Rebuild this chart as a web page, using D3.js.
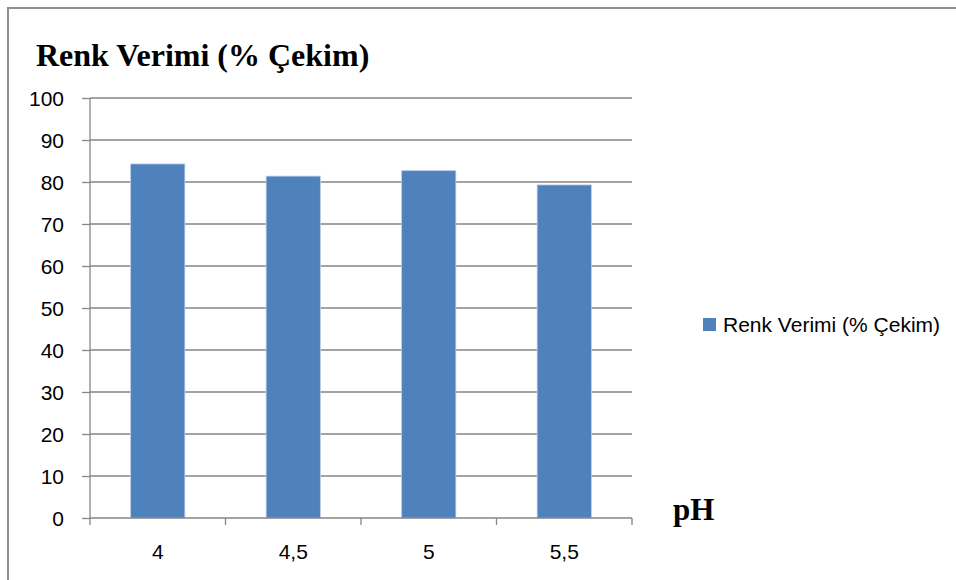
<!DOCTYPE html>
<html>
<head>
<meta charset="utf-8">
<script src="https://cdn.jsdelivr.net/npm/d3@7"></script>
<style>
  html, body { margin: 0; padding: 0; background: #fff; }
  svg { display: block; }
</style>
</head>
<body>
<svg id="chart" width="956" height="580"></svg>
<script>
// pH values on the x axis and the colour yield (% exhaustion) for each
const categories = ["4", "4,5", "5", "5,5"];
const values = [84.3, 81.4, 82.7, 79.3];
const yTicks = [0, 10, 20, 30, 40, 50, 60, 70, 80, 90, 100];
const seriesName = "Renk Verimi (% Çekim)";
const xTitle = "pH";

const svg = d3.select("#chart");
const W = 956, H = 580;
const plot = { left: 90, right: 632, top: 98, bottom: 518 };
const barColor = "#4F81BD";
const gridColor = "#868686";
const sans = "'Liberation Sans', Arial, sans-serif";
const serif = "'Liberation Serif', 'Times New Roman', serif";

// outer chart frame (left and top edges visible)
svg.append("path")
  .attr("d", `M8,${H} L8,8 L${W},8`)
  .attr("fill", "none")
  .attr("stroke", "#8f8f8f")
  .attr("stroke-width", 2);

const x = d3.scaleBand().domain(categories).range([plot.left, plot.right]).paddingInner(0.6).paddingOuter(0.3);
const xb = d3.scaleBand().domain(categories).range([plot.left, plot.right]);
const y = d3.scaleLinear().domain([0, 100]).range([plot.bottom, plot.top]);

// horizontal gridlines
svg.append("g").selectAll("line").data(yTicks.filter(d => d > 0)).join("line")
  .attr("x1", plot.left).attr("x2", plot.right)
  .attr("y1", d => y(d)).attr("y2", d => y(d))
  .attr("stroke", gridColor).attr("stroke-width", 1.3);

// bars
svg.append("g").selectAll("rect").data(values).join("rect")
  .attr("x", (d, i) => x(categories[i]))
  .attr("width", x.bandwidth())
  .attr("y", d => y(d))
  .attr("height", d => y(0) - y(d))
  .attr("fill", barColor)
  .attr("stroke", "#b9cde5")
  .attr("stroke-width", 0.8);

// y axis
const yAxis = d3.axisLeft(y).tickValues(yTicks).tickSize(8).tickPadding(18);
const gy = svg.append("g").attr("transform", `translate(${plot.left},0)`).call(yAxis);
gy.select(".domain").attr("stroke", gridColor).attr("stroke-width", 1.3).attr("d", `M-0,${plot.top}V${plot.bottom}`);
gy.selectAll(".tick line").attr("stroke", gridColor).attr("stroke-width", 1.3);
gy.selectAll(".tick text")
  .attr("fill", "#000")
  .attr("font-family", sans)
  .attr("font-size", 21)
  .attr("dy", "0.36em");

// x axis: ticks between categories, labels centred under bars
const gx = svg.append("g").attr("transform", `translate(0,${plot.bottom})`);
gx.append("line")
  .attr("x1", plot.left).attr("x2", plot.right)
  .attr("stroke", gridColor).attr("stroke-width", 1.3);
const boundaries = categories.map(c => xb(c)).concat([plot.right]);
gx.selectAll("line.tk").data(boundaries).join("line").attr("class", "tk")
  .attr("x1", d => d).attr("x2", d => d)
  .attr("y1", 0).attr("y2", 7)
  .attr("stroke", gridColor).attr("stroke-width", 1.3);
gx.selectAll("text").data(categories).join("text")
  .attr("x", d => xb(d) + xb.bandwidth() / 2)
  .attr("y", 41)
  .attr("text-anchor", "middle")
  .attr("font-family", sans)
  .attr("font-size", 21)
  .attr("fill", "#000")
  .text(d => d);

// chart title
svg.append("text")
  .attr("x", 36).attr("y", 66)
  .attr("font-family", serif)
  .attr("font-weight", "bold")
  .attr("font-size", 32)
  .attr("fill", "#000")
  .text(seriesName);

// x axis title
svg.append("text")
  .attr("x", 673).attr("y", 520)
  .attr("font-family", serif)
  .attr("font-weight", "bold")
  .attr("font-size", 31)
  .attr("fill", "#000")
  .text(xTitle);

// legend
const lg = svg.append("g").attr("transform", "translate(703,318)");
lg.append("rect").attr("width", 13).attr("height", 13).attr("fill", barColor);
lg.append("text")
  .attr("x", 20).attr("y", 14)
  .attr("font-family", sans)
  .attr("font-size", 21)
  .attr("fill", "#000")
  .text(seriesName);
</script>
</body>
</html>
